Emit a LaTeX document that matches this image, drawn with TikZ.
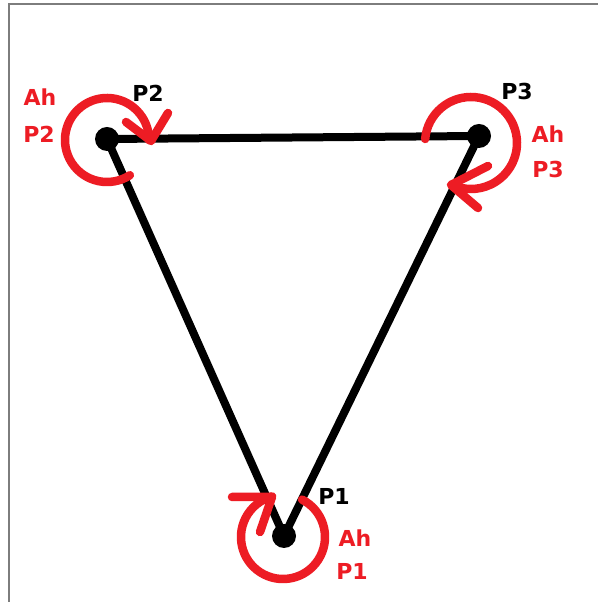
\documentclass[tikz,border=0pt]{standalone}
\usepackage{fontspec}
\setmainfont{DejaVu Sans}
\definecolor{pred}{RGB}{237,28,36}
\definecolor{frame}{RGB}{125,125,125}
\begin{document}
\begin{tikzpicture}[x=1pt,y=1pt,
  dot/.style={circle,fill=black,inner sep=0pt,minimum size=24pt},
  edge/.style={line width=8pt,black,line cap=round},
  rot/.style={line width=8.5pt,pred,line cap=round,line join=round},
  lbl/.style={anchor=base,inner sep=0pt,font=\fontsize{22}{22}\selectfont\bfseries},
  rlbl/.style={lbl,text=pred}]
\useasboundingbox (0,0) rectangle (598,602);
\fill[white] (0,0) rectangle (598,602);
\draw[frame,line width=2pt] (8.5,0) -- (8.5,597.5) -- (598,597.5);

% vertices
\node[dot] (p2) at (107,463) {};
\node[dot] (p3) at (479,466) {};
\node[dot] (p1) at (284,66) {};

% edges
\draw[edge] (p2.center) -- (p3.center);
\draw[edge] (p2.center) -- (p1.center);
\draw[edge] (p3.center) -- (p1.center);

% rotation arcs
\coordinate (c2) at (107,462);
\coordinate (c3) at (471,459);
\coordinate (c1) at (283,65);
\draw[rot] ([shift={(-57:42pt)}]c2) arc[start angle=-57,end angle=-360,radius=42pt];
\draw[rot] ([shift={(175:46pt)}]c3) arc[start angle=175,end angle=-115,radius=46pt];
\draw[rot] ([shift={(63:42pt)}]c1) arc[start angle=63,end angle=-255,radius=42pt];

% arrow barbs
\coordinate (t2) at (151,461);
\coordinate (t3) at (451,417);
\coordinate (t1) at (272,105);
\draw[rot] (168,489) -- (t2) -- (126,480);
\draw[rot] (488,436) -- (t3) -- (478,394);
\draw[rot] (232,105) -- (t1) -- (260,70);

% labels
\node[lbl] (n2) at (148,500) {P2};
\node[lbl] (n3) at (517,502) {P3};
\node[lbl] (n1) at (334,97) {P1};
\node[rlbl] (a2) at (40,496) {Ah};
\node[rlbl] (b2) at (39,459) {P2};
\node[rlbl] (a3) at (548,459) {Ah};
\node[rlbl] (b3) at (548,424) {P3};
\node[rlbl] (a1) at (355,55) {Ah};
\node[rlbl] (b1) at (352,22) {P1};
\end{tikzpicture}
\end{document}
